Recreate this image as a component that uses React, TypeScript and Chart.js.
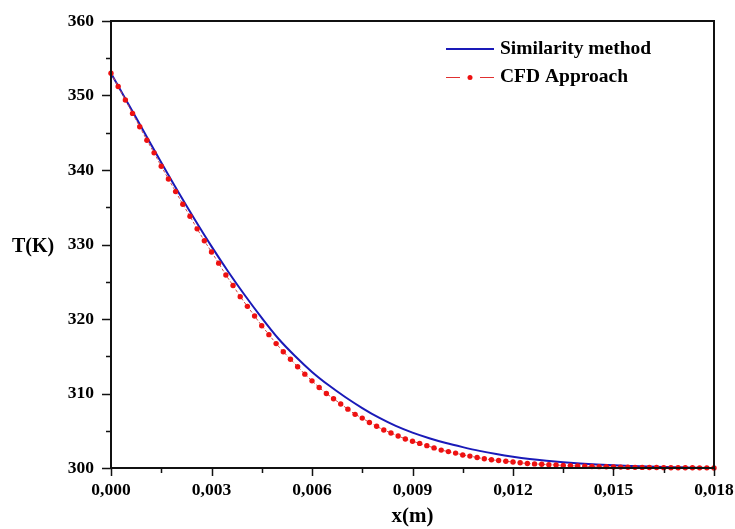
import React, { useEffect, useRef } from "react";
import { Chart, registerables } from "chart.js";

Chart.register(...registerables);

// ---- Data ----
const seriesNames = ["Similarity method", "CFD Approach"];

// Similarity method (blue solid line)
const xSim = [
  0, 0.0005, 0.001, 0.0015, 0.002, 0.0025, 0.003, 0.0035, 0.004, 0.0045,
  0.005, 0.0055, 0.006, 0.0065, 0.007, 0.0075, 0.008, 0.0085, 0.009, 0.0095,
  0.01, 0.0105, 0.011, 0.0115, 0.012, 0.0125, 0.013, 0.0135, 0.014, 0.0145,
  0.015, 0.0155, 0.016, 0.0165, 0.017, 0.0175, 0.018,
];
const tSim = [
  353.0, 349.0, 345.0, 341.0, 337.1, 333.35, 329.75, 326.35, 323.15, 320.15,
  317.35, 315.0, 312.9, 311.1, 309.5, 308.05, 306.75, 305.65, 304.75, 304.0,
  303.35, 302.8, 302.3, 301.88, 301.52, 301.22, 300.98, 300.78, 300.62, 300.48,
  300.37, 300.28, 300.2, 300.14, 300.09, 300.04, 300.0,
];

// CFD Approach (red markers, thin dashed line)
const xCFD = [
  0, 0.000214, 0.000429, 0.000643, 0.000857, 0.001071, 0.001286,
  0.0015, 0.001714, 0.001929, 0.002143, 0.002357, 0.002571, 0.002786,
  0.003, 0.003214, 0.003429, 0.003643, 0.003857, 0.004071, 0.004286,
  0.0045, 0.004714, 0.004929, 0.005143, 0.005357, 0.005571, 0.005786,
  0.006, 0.006214, 0.006429, 0.006643, 0.006857, 0.007071, 0.007286,
  0.0075, 0.007714, 0.007929, 0.008143, 0.008357, 0.008571, 0.008786,
  0.009, 0.009214, 0.009429, 0.009643, 0.009857, 0.010071, 0.010286,
  0.0105, 0.010714, 0.010929, 0.011143, 0.011357, 0.011571, 0.011786,
  0.012, 0.012214, 0.012429, 0.012643, 0.012857, 0.013071, 0.013286,
  0.0135, 0.013714, 0.013929, 0.014143, 0.014357, 0.014571, 0.014786,
  0.015, 0.015214, 0.015429, 0.015643, 0.015857, 0.016071, 0.016286,
  0.0165, 0.016714, 0.016929, 0.017143, 0.017357, 0.017571, 0.017786,
  0.018,
];
const tCFD = [
  353.0, 351.2, 349.4, 347.6, 345.8, 344.0, 342.3,
  340.5, 338.8, 337.1, 335.4, 333.8, 332.1, 330.5,
  329.0, 327.5, 325.9, 324.5, 323.0, 321.7, 320.4,
  319.1, 317.9, 316.7, 315.6, 314.6, 313.6, 312.6,
  311.7, 310.8, 310.0, 309.3, 308.6, 307.9, 307.2,
  306.7, 306.1, 305.6, 305.1, 304.7, 304.3, 303.9,
  303.6, 303.3, 303.0, 302.7, 302.4, 302.2, 302.0,
  301.75, 301.6, 301.4, 301.25, 301.1, 301.0, 300.9,
  300.8, 300.7, 300.6, 300.55, 300.5, 300.45, 300.4,
  300.35, 300.3, 300.27, 300.24, 300.21, 300.18, 300.16,
  300.14, 300.12, 300.1, 300.09, 300.08, 300.07, 300.06,
  300.05, 300.04, 300.04, 300.03, 300.03, 300.02, 300.02,
  300.01,
];

const xTickLabels = ["0,000", "0,003", "0,006", "0,009", "0,012", "0,015", "0,018"];
const yTickLabels = ["300", "310", "320", "330", "340", "350", "360"];
const xTitle = "x(m)";
const yTitle = "T(K)";

const FONT = '"Liberation Serif", "Times New Roman", serif';

const framePlugin = {
  id: "framePlugin",
  afterDraw(chart: any) {
    const { ctx, chartArea } = chart;
    const { left, right, top, bottom } = chartArea;
    const xs = chart.scales.x;
    const ys = chart.scales.y;
    ctx.save();
    // frame
    ctx.strokeStyle = "#111";
    ctx.lineWidth = 2;
    ctx.beginPath();
    ctx.moveTo(left, top);
    ctx.lineTo(right, top);
    ctx.lineTo(right, bottom);
    ctx.lineTo(left, bottom);
    ctx.closePath();
    ctx.stroke();
    // ticks
    ctx.lineWidth = 1.5;
    ctx.beginPath();
    xs.ticks.forEach((t: any) => {
      const px = Math.round(xs.getPixelForValue(t.value)) + 0.5;
      const major = Math.abs(t.value / 0.003 - Math.round(t.value / 0.003)) < 1e-6;
      ctx.moveTo(px, bottom);
      ctx.lineTo(px, bottom + (major ? 8 : 5));
    });
    ys.ticks.forEach((t: any) => {
      const py = Math.round(ys.getPixelForValue(t.value)) + 0.5;
      const major = Math.abs(t.value % 10) < 1e-6;
      ctx.moveTo(left, py);
      ctx.lineTo(left - (major ? 9 : 5), py);
    });
    ctx.stroke();

    // axis titles
    ctx.fillStyle = "#000";
    ctx.font = `bold 20px ${FONT}`;
    ctx.textAlign = "left";
    ctx.textBaseline = "middle";
    ctx.fillText(yTitle, 12, 247);
    ctx.font = `bold 21px ${FONT}`;
    ctx.textAlign = "center";
    ctx.fillText(xTitle, (left + right) / 2, 517);

    // legend
    ctx.font = `bold 19.5px ${FONT}`;
    ctx.textAlign = "left";
    ctx.textBaseline = "middle";
    ctx.strokeStyle = "#1a1ab8";
    ctx.lineWidth = 2;
    ctx.beginPath();
    ctx.moveTo(446, 49);
    ctx.lineTo(494, 49);
    ctx.stroke();
    ctx.fillText(seriesNames[0], 500, 49);

    ctx.strokeStyle = "#e03030";
    ctx.lineWidth = 1;
    ctx.beginPath();
    ctx.moveTo(446, 77.5);
    ctx.lineTo(460, 77.5);
    ctx.moveTo(480, 77.5);
    ctx.lineTo(494, 77.5);
    ctx.stroke();
    ctx.fillStyle = "#ee1111";
    ctx.beginPath();
    ctx.arc(470, 77.5, 2.5, 0, Math.PI * 2);
    ctx.fill();
    ctx.fillStyle = "#000";
    ctx.fillText(seriesNames[1], 500, 77);
    ctx.restore();
  },
};

const zeroPad = (s: any) => {
  s.paddingLeft = 0;
  s.paddingRight = 0;
  s.paddingTop = 0;
  s.paddingBottom = 0;
};

export default function App() {
  const canvasRef = useRef<HTMLCanvasElement | null>(null);

  useEffect(() => {
    if (!canvasRef.current) return;
    const chart = new Chart(canvasRef.current, {
      type: "line",
      data: {
        datasets: [
          {
            label: seriesNames[1],
            data: xCFD.map((x, i) => ({ x, y: tCFD[i] })),
            borderColor: "#d04848",
            borderWidth: 1,
            borderDash: [3, 2],
            pointRadius: 2.7,
            pointBorderWidth: 0,
            pointBackgroundColor: "#ee1111",
            pointStyle: "circle",
            tension: 0,
            order: 0,
            clip: 6,
          },
          {
            label: seriesNames[0],
            data: xSim.map((x, i) => ({ x, y: tSim[i] })),
            borderColor: "#1a1ab8",
            borderWidth: 2,
            pointRadius: 0,
            cubicInterpolationMode: "monotone",
            order: 1,
            clip: 6,
          },
        ],
      },
      options: {
        animation: false,
        responsive: true,
        maintainAspectRatio: false,
        layout: { padding: { top: 21, right: 21, left: 0, bottom: 0 } },
        plugins: {
          legend: { display: false },
          tooltip: { enabled: false },
          title: { display: false },
        },
        scales: {
          x: {
            type: "linear",
            min: 0,
            max: 0.018,
            grid: { display: false, drawTicks: false },
            border: { display: false },
            ticks: {
              stepSize: 0.0015,
              autoSkip: false,
              maxRotation: 0,
              padding: 12,
              color: "#000",
              font: { family: FONT, size: 17.5, weight: "bold" },
              callback: (v: any) => {
                const k = Number(v) / 0.003;
                if (Math.abs(k - Math.round(k)) < 1e-6) return xTickLabels[Math.round(k)] ?? "";
                return "";
              },
            },
            afterFit: (s: any) => {
              s.height = 61;
              zeroPad(s);
            },
          },
          y: {
            type: "linear",
            min: 300,
            max: 360,
            grid: { display: false, drawTicks: false },
            border: { display: false },
            ticks: {
              stepSize: 5,
              autoSkip: false,
              padding: 17,
              color: "#000",
              font: { family: FONT, size: 17.5, weight: "bold" },
              callback: (v: any) => {
                const n = Number(v);
                if (Math.abs(n % 10) < 1e-6) return yTickLabels[Math.round((n - 300) / 10)] ?? "";
                return "";
              },
            },
            afterFit: (s: any) => {
              s.width = 111;
              zeroPad(s);
            },
          },
        },
      },
      plugins: [framePlugin],
    });
    return () => chart.destroy();
  }, []);

  return (
    <div style={{ position: "fixed", left: 0, top: 0, width: 735, height: 529, background: "#fff" }}>
      <canvas ref={canvasRef} />
    </div>
  );
}
